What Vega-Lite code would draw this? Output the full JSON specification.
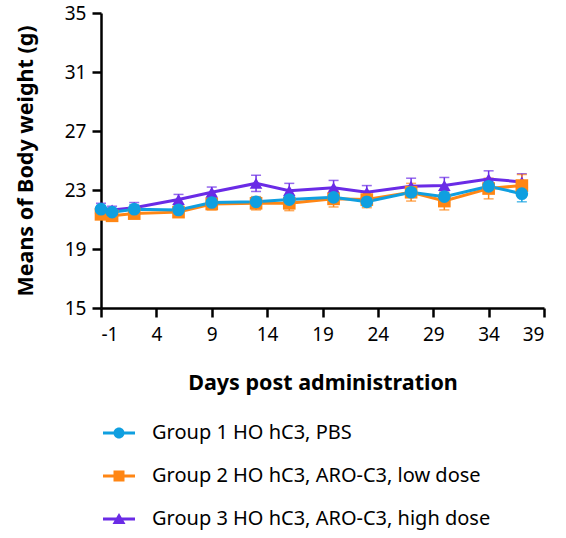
{
  "$schema": "https://vega.github.io/schema/vega-lite/v6.json",
  "width": 443,
  "height": 295,
  "autosize": {"type": "none"},
  "padding": {"left": 101, "top": 13, "right": 22, "bottom": 230},
  "background": "white",
  "config": {
    "view": {"stroke": null},
    "font": "Noto Sans",
    "axis": {
      "domainColor": "black",
      "domainWidth": 2.5,
      "tickColor": "black",
      "tickWidth": 2.5,
      "tickSize": 9,
      "grid": false,
      "labelFont": "Noto Sans",
      "labelFontSize": 19,
      "labelColor": "black",
      "titleFont": "Noto Sans",
      "titleFontSize": 21.5,
      "titleFontWeight": "bold",
      "titleColor": "black"
    },
    "legend": {
      "labelFont": "Noto Sans",
      "labelFontSize": 20,
      "labelColor": "black",
      "labelLimit": 400
    }
  },
  "data": {
    "values": [
      {"day": -1, "group": "Group 3 HO hC3, ARO-C3, high dose", "mean": 21.8, "sem": 0.3},
      {"day": 0, "group": "Group 3 HO hC3, ARO-C3, high dose", "mean": 21.65, "sem": 0.25},
      {"day": 2, "group": "Group 3 HO hC3, ARO-C3, high dose", "mean": 21.8, "sem": 0.35},
      {"day": 6, "group": "Group 3 HO hC3, ARO-C3, high dose", "mean": 22.35, "sem": 0.35},
      {"day": 9, "group": "Group 3 HO hC3, ARO-C3, high dose", "mean": 22.85, "sem": 0.35},
      {"day": 13, "group": "Group 3 HO hC3, ARO-C3, high dose", "mean": 23.45, "sem": 0.55},
      {"day": 16, "group": "Group 3 HO hC3, ARO-C3, high dose", "mean": 22.95, "sem": 0.5},
      {"day": 20, "group": "Group 3 HO hC3, ARO-C3, high dose", "mean": 23.15, "sem": 0.5},
      {"day": 23, "group": "Group 3 HO hC3, ARO-C3, high dose", "mean": 22.85, "sem": 0.45},
      {"day": 27, "group": "Group 3 HO hC3, ARO-C3, high dose", "mean": 23.25, "sem": 0.55},
      {"day": 30, "group": "Group 3 HO hC3, ARO-C3, high dose", "mean": 23.3, "sem": 0.55},
      {"day": 34, "group": "Group 3 HO hC3, ARO-C3, high dose", "mean": 23.75, "sem": 0.55},
      {"day": 37, "group": "Group 3 HO hC3, ARO-C3, high dose", "mean": 23.55, "sem": 0.55},
      {"day": -1, "group": "Group 2 HO hC3, ARO-C3, low dose", "mean": 21.35, "sem": 0.3},
      {"day": 0, "group": "Group 2 HO hC3, ARO-C3, low dose", "mean": 21.25, "sem": 0.3},
      {"day": 2, "group": "Group 2 HO hC3, ARO-C3, low dose", "mean": 21.4, "sem": 0.3},
      {"day": 6, "group": "Group 2 HO hC3, ARO-C3, low dose", "mean": 21.5, "sem": 0.3},
      {"day": 9, "group": "Group 2 HO hC3, ARO-C3, low dose", "mean": 22.05, "sem": 0.4},
      {"day": 13, "group": "Group 2 HO hC3, ARO-C3, low dose", "mean": 22.1, "sem": 0.45},
      {"day": 16, "group": "Group 2 HO hC3, ARO-C3, low dose", "mean": 22.1, "sem": 0.5},
      {"day": 20, "group": "Group 2 HO hC3, ARO-C3, low dose", "mean": 22.4, "sem": 0.55},
      {"day": 23, "group": "Group 2 HO hC3, ARO-C3, low dose", "mean": 22.35, "sem": 0.55},
      {"day": 27, "group": "Group 2 HO hC3, ARO-C3, low dose", "mean": 22.85, "sem": 0.6},
      {"day": 30, "group": "Group 2 HO hC3, ARO-C3, low dose", "mean": 22.25, "sem": 0.6},
      {"day": 34, "group": "Group 2 HO hC3, ARO-C3, low dose", "mean": 23.1, "sem": 0.7},
      {"day": 37, "group": "Group 2 HO hC3, ARO-C3, low dose", "mean": 23.3, "sem": 0.75},
      {"day": -1, "group": "Group 1 HO hC3, PBS", "mean": 21.7, "sem": 0.25},
      {"day": 0, "group": "Group 1 HO hC3, PBS", "mean": 21.5, "sem": 0.25},
      {"day": 2, "group": "Group 1 HO hC3, PBS", "mean": 21.7, "sem": 0.3},
      {"day": 6, "group": "Group 1 HO hC3, PBS", "mean": 21.65, "sem": 0.3},
      {"day": 9, "group": "Group 1 HO hC3, PBS", "mean": 22.15, "sem": 0.3},
      {"day": 13, "group": "Group 1 HO hC3, PBS", "mean": 22.2, "sem": 0.3},
      {"day": 16, "group": "Group 1 HO hC3, PBS", "mean": 22.35, "sem": 0.3},
      {"day": 20, "group": "Group 1 HO hC3, PBS", "mean": 22.5, "sem": 0.3},
      {"day": 23, "group": "Group 1 HO hC3, PBS", "mean": 22.2, "sem": 0.3},
      {"day": 27, "group": "Group 1 HO hC3, PBS", "mean": 22.85, "sem": 0.3},
      {"day": 30, "group": "Group 1 HO hC3, PBS", "mean": 22.55, "sem": 0.3},
      {"day": 34, "group": "Group 1 HO hC3, PBS", "mean": 23.25, "sem": 0.3},
      {"day": 37, "group": "Group 1 HO hC3, PBS", "mean": 22.75, "sem": 0.55}
    ]
  },
  "encoding": {
    "x": {
      "field": "day",
      "type": "quantitative",
      "scale": {"domain": [-1, 39], "nice": false, "zero": false},
      "axis": {"values": [-1, 4, 9, 14, 19, 24, 29, 34, 39], "labelExpr": "datum.value + ''", "title": "Days post administration", "labelPadding": 8, "titlePadding": 28}
    }
  },
  "layer": [
    {
      "mark": {"type": "errorbar", "ticks": true, "size": 10, "thickness": 1.5},
      "encoding": {
        "y": {"field": "mean", "type": "quantitative", "scale": {"domain": [15, 35], "nice": false, "zero": false},
          "axis": {"values": [15, 19, 23, 27, 31, 35], "title": "Means of Body weight (g)", "labelPadding": 6, "titlePadding": 27}},
        "yError": {"field": "sem"},
        "color": {"field": "group", "type": "nominal",
          "scale": {"domain": ["Group 1 HO hC3, PBS", "Group 2 HO hC3, ARO-C3, low dose", "Group 3 HO hC3, ARO-C3, high dose"], "range": ["#0f9fe0", "#ff8614", "#6a2be6"]},
          "legend": null}
      }
    },
    {
      "mark": {"type": "line", "strokeWidth": 3},
      "encoding": {
        "y": {"field": "mean", "type": "quantitative"},
        "color": {"field": "group", "type": "nominal",
          "scale": {"domain": ["Group 1 HO hC3, PBS", "Group 2 HO hC3, ARO-C3, low dose", "Group 3 HO hC3, ARO-C3, high dose"], "range": ["#0f9fe0", "#ff8614", "#6a2be6"]},
          "legend": null},
        "order": {"field": "day", "type": "quantitative"}
      }
    },
    {
      "mark": {"type": "point", "filled": true, "opacity": 1, "size": 160},
      "encoding": {
        "y": {"field": "mean", "type": "quantitative"},
        "color": {"field": "group", "type": "nominal",
          "scale": {"domain": ["Group 1 HO hC3, PBS", "Group 2 HO hC3, ARO-C3, low dose", "Group 3 HO hC3, ARO-C3, high dose"], "range": ["#0f9fe0", "#ff8614", "#6a2be6"]},
          "legend": null},
        "shape": {"field": "group", "type": "nominal",
          "scale": {"domain": ["Group 1 HO hC3, PBS", "Group 2 HO hC3, ARO-C3, low dose", "Group 3 HO hC3, ARO-C3, high dose"], "range": ["circle", "square", "triangle-up"]},
          "legend": null}
      }
    },
    {
      "mark": {"type": "point", "filled": true, "opacity": 0},
      "encoding": {
        "y": {"field": "mean", "type": "quantitative"},
        "color": {"field": "group", "type": "nominal",
          "scale": {"domain": ["Group 1 HO hC3, PBS", "Group 2 HO hC3, ARO-C3, low dose", "Group 3 HO hC3, ARO-C3, high dose"], "range": ["#0f9fe0", "#ff8614", "#6a2be6"]},
          "legend": {"orient": "none", "legendX": 8, "legendY": 410, "title": null, "symbolSize": 400, "symbolOpacity": 1, "labelOffset": 23, "rowPadding": 23, "padding": 0, "symbolStrokeWidth": 0}},
        "shape": {"field": "group", "type": "nominal",
          "scale": {"domain": ["Group 1 HO hC3, PBS", "Group 2 HO hC3, ARO-C3, low dose", "Group 3 HO hC3, ARO-C3, high dose"],
            "range": [
              "M-1.6,-0.15H1.6V0.15H-1.6Z M-0.55,0A0.55,0.55 0 1,1 0.55,0A0.55,0.55 0 1,1 -0.55,0Z",
              "M-1.6,-0.15H1.6V0.15H-1.6Z M-0.55,-0.55H0.55V0.55H-0.55Z",
              "M-1.6,-0.15H1.6V0.15H-1.6Z M0,-0.6L0.65,0.5H-0.65Z"
            ]},
          "legend": {"orient": "none", "legendX": 8, "legendY": 410, "title": null, "symbolSize": 400, "symbolOpacity": 1, "labelOffset": 23, "rowPadding": 23, "padding": 0, "symbolStrokeWidth": 0}}
      }
    }
  ],
  "resolve": {"scale": {"color": "independent", "shape": "independent"}}
}
